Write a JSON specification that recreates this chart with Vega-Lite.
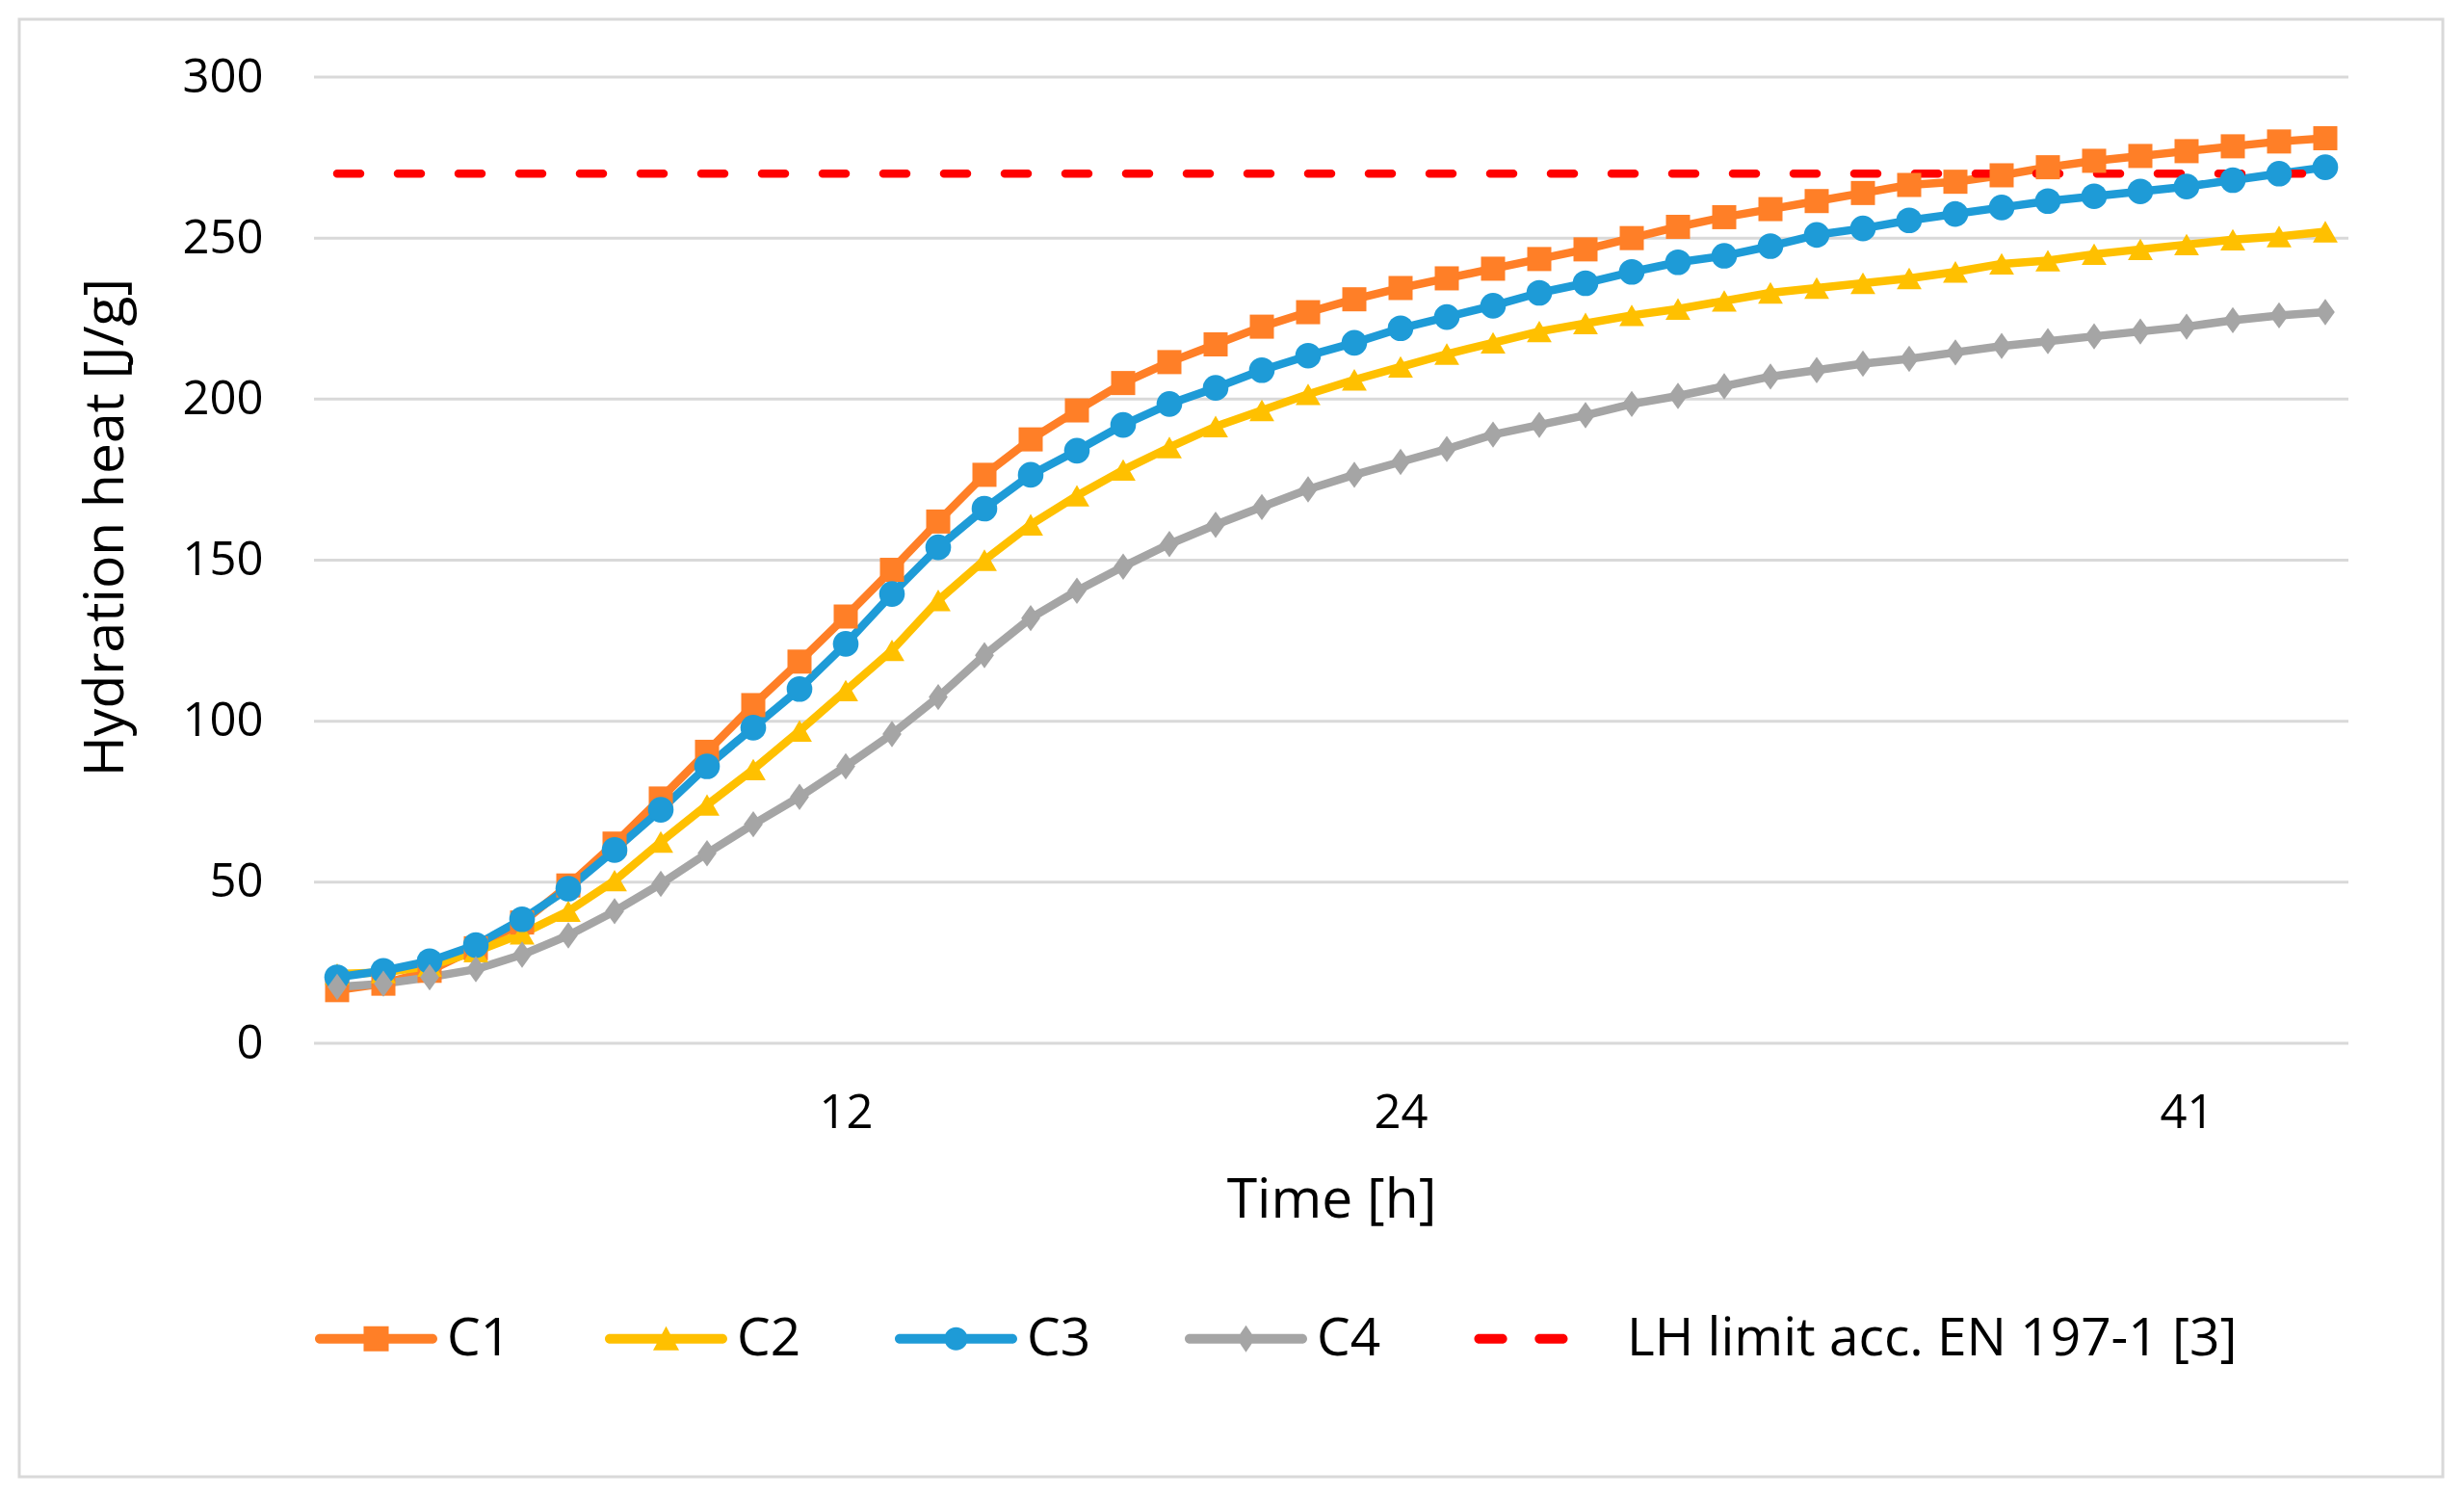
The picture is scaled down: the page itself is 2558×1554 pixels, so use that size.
{
  "$schema": "https://vega.github.io/schema/vega-lite/v6.json",
  "width": 2516,
  "height": 1513,
  "autosize": {"type": "none"},
  "padding": {"left": 20, "top": 20, "right": 22, "bottom": 21},
  "background": "white",
  "datasets": {
    "grid": [{"v": 0}, {"v": 50}, {"v": 100}, {"v": 150}, {"v": 200}, {"v": 250}, {"v": 300}],
    "limit": [
      {"s": "LH limit acc. EN 197-1 [3]", "t": 1, "v": 270},
      {"s": "LH limit acc. EN 197-1 [3]", "t": 44, "v": 270}
    ],
    "curves": [
      {"s":"C1","t":1,"v":16.5},{"s":"C1","t":2,"v":18.5},{"s":"C1","t":3,"v":22.5},{"s":"C1","t":4,"v":29.5},{"s":"C1","t":5,"v":37.5},{"s":"C1","t":6,"v":49},{"s":"C1","t":7,"v":62},{"s":"C1","t":8,"v":76},{"s":"C1","t":9,"v":90.5},{"s":"C1","t":10,"v":105},{"s":"C1","t":11,"v":118.5},{"s":"C1","t":12,"v":132.5},{"s":"C1","t":13,"v":147},{"s":"C1","t":14,"v":162},{"s":"C1","t":15,"v":176.5},{"s":"C1","t":16,"v":187.5},{"s":"C1","t":17,"v":196.5},{"s":"C1","t":18,"v":205},{"s":"C1","t":19,"v":211.5},{"s":"C1","t":20,"v":217},{"s":"C1","t":21,"v":222.5},{"s":"C1","t":22,"v":227},{"s":"C1","t":23,"v":231},{"s":"C1","t":24,"v":234.5},{"s":"C1","t":25,"v":237.5},{"s":"C1","t":26,"v":240.5},{"s":"C1","t":27,"v":243.5},{"s":"C1","t":28,"v":246.5},{"s":"C1","t":29,"v":250},{"s":"C1","t":30,"v":253.5},{"s":"C1","t":31,"v":256.5},{"s":"C1","t":32,"v":259},{"s":"C1","t":33,"v":261.5},{"s":"C1","t":34,"v":264},{"s":"C1","t":35,"v":266.5},{"s":"C1","t":36,"v":267.5},{"s":"C1","t":37,"v":269.5},{"s":"C1","t":38,"v":272},{"s":"C1","t":39,"v":274},{"s":"C1","t":40,"v":275.5},{"s":"C1","t":41,"v":277},{"s":"C1","t":42,"v":278.5},{"s":"C1","t":43,"v":280},{"s":"C1","t":44,"v":281},
      {"s":"C2","t":1,"v":21.5},{"s":"C2","t":2,"v":22},{"s":"C2","t":3,"v":24},{"s":"C2","t":4,"v":28.5},{"s":"C2","t":5,"v":34},{"s":"C2","t":6,"v":41},{"s":"C2","t":7,"v":50.5},{"s":"C2","t":8,"v":62.5},{"s":"C2","t":9,"v":74},{"s":"C2","t":10,"v":85},{"s":"C2","t":11,"v":97},{"s":"C2","t":12,"v":109.5},{"s":"C2","t":13,"v":122},{"s":"C2","t":14,"v":137.5},{"s":"C2","t":15,"v":150},{"s":"C2","t":16,"v":161},{"s":"C2","t":17,"v":170},{"s":"C2","t":18,"v":178},{"s":"C2","t":19,"v":185},{"s":"C2","t":20,"v":191.5},{"s":"C2","t":21,"v":196.5},{"s":"C2","t":22,"v":201.5},{"s":"C2","t":23,"v":206},{"s":"C2","t":24,"v":210},{"s":"C2","t":25,"v":214},{"s":"C2","t":26,"v":217.5},{"s":"C2","t":27,"v":221},{"s":"C2","t":28,"v":223.5},{"s":"C2","t":29,"v":226},{"s":"C2","t":30,"v":228},{"s":"C2","t":31,"v":230.5},{"s":"C2","t":32,"v":233},{"s":"C2","t":33,"v":234.5},{"s":"C2","t":34,"v":236},{"s":"C2","t":35,"v":237.5},{"s":"C2","t":36,"v":239.5},{"s":"C2","t":37,"v":242},{"s":"C2","t":38,"v":243},{"s":"C2","t":39,"v":245},{"s":"C2","t":40,"v":246.5},{"s":"C2","t":41,"v":248},{"s":"C2","t":42,"v":249.5},{"s":"C2","t":43,"v":250.5},{"s":"C2","t":44,"v":252},
      {"s":"C3","t":1,"v":20.5},{"s":"C3","t":2,"v":22.5},{"s":"C3","t":3,"v":25.5},{"s":"C3","t":4,"v":30.5},{"s":"C3","t":5,"v":38.5},{"s":"C3","t":6,"v":48},{"s":"C3","t":7,"v":60},{"s":"C3","t":8,"v":72.5},{"s":"C3","t":9,"v":86},{"s":"C3","t":10,"v":98},{"s":"C3","t":11,"v":110},{"s":"C3","t":12,"v":124},{"s":"C3","t":13,"v":139.5},{"s":"C3","t":14,"v":154},{"s":"C3","t":15,"v":166},{"s":"C3","t":16,"v":176.5},{"s":"C3","t":17,"v":184},{"s":"C3","t":18,"v":192},{"s":"C3","t":19,"v":198.5},{"s":"C3","t":20,"v":203.5},{"s":"C3","t":21,"v":209},{"s":"C3","t":22,"v":213.5},{"s":"C3","t":23,"v":217.5},{"s":"C3","t":24,"v":222},{"s":"C3","t":25,"v":225.5},{"s":"C3","t":26,"v":229},{"s":"C3","t":27,"v":233},{"s":"C3","t":28,"v":236},{"s":"C3","t":29,"v":239.5},{"s":"C3","t":30,"v":242.5},{"s":"C3","t":31,"v":244.5},{"s":"C3","t":32,"v":247.5},{"s":"C3","t":33,"v":251},{"s":"C3","t":34,"v":253},{"s":"C3","t":35,"v":255.5},{"s":"C3","t":36,"v":257.5},{"s":"C3","t":37,"v":259.5},{"s":"C3","t":38,"v":261.5},{"s":"C3","t":39,"v":263},{"s":"C3","t":40,"v":264.5},{"s":"C3","t":41,"v":266},{"s":"C3","t":42,"v":268},{"s":"C3","t":43,"v":270},{"s":"C3","t":44,"v":272},
      {"s":"C4","t":1,"v":17.5},{"s":"C4","t":2,"v":18.5},{"s":"C4","t":3,"v":20.5},{"s":"C4","t":4,"v":23},{"s":"C4","t":5,"v":27.5},{"s":"C4","t":6,"v":33.5},{"s":"C4","t":7,"v":41},{"s":"C4","t":8,"v":49.5},{"s":"C4","t":9,"v":59},{"s":"C4","t":10,"v":68},{"s":"C4","t":11,"v":76.5},{"s":"C4","t":12,"v":86},{"s":"C4","t":13,"v":96},{"s":"C4","t":14,"v":107.5},{"s":"C4","t":15,"v":120.5},{"s":"C4","t":16,"v":132},{"s":"C4","t":17,"v":140.5},{"s":"C4","t":18,"v":148},{"s":"C4","t":19,"v":155},{"s":"C4","t":20,"v":161},{"s":"C4","t":21,"v":166.5},{"s":"C4","t":22,"v":172},{"s":"C4","t":23,"v":176.5},{"s":"C4","t":24,"v":180.5},{"s":"C4","t":25,"v":184.5},{"s":"C4","t":26,"v":189},{"s":"C4","t":27,"v":192},{"s":"C4","t":28,"v":195},{"s":"C4","t":29,"v":198.5},{"s":"C4","t":30,"v":201},{"s":"C4","t":31,"v":204},{"s":"C4","t":32,"v":207},{"s":"C4","t":33,"v":209},{"s":"C4","t":34,"v":211},{"s":"C4","t":35,"v":212.5},{"s":"C4","t":36,"v":214.5},{"s":"C4","t":37,"v":216.5},{"s":"C4","t":38,"v":218},{"s":"C4","t":39,"v":219.5},{"s":"C4","t":40,"v":221},{"s":"C4","t":41,"v":222.5},{"s":"C4","t":42,"v":224.5},{"s":"C4","t":43,"v":226},{"s":"C4","t":44,"v":227}
    ]
  },
  "layer": [
    {
      "data": {"name": "grid"},
      "mark": {"type": "rule", "color": "#d9d9d9", "strokeWidth": 3},
      "encoding": {
        "x": {
          "datum": 0.5,
          "type": "quantitative",
          "title": "Time [h]",
          "scale": {"domain": [0.5, 44.5], "range": [306, 2418], "nice": false, "zero": false},
          "axis": {
            "orient": "bottom",
            "offset": -450,
            "values": [12, 24, 41],
            "format": "d",
            "grid": false,
            "domain": false,
            "ticks": false,
            "labelPadding": 48,
            "labelFontSize": 49,
            "labelColor": "#000",
            "titleFontSize": 57,
            "titleFontWeight": "normal",
            "titleColor": "#000",
            "titleBaseline": "alphabetic",
            "titleY": 180
          }
        },
        "x2": {"datum": 44.5},
        "y": {
          "field": "v",
          "type": "quantitative",
          "title": "Hydration heat [J/g]",
          "scale": {"domain": [0, 300], "range": [1063, 60], "nice": false, "zero": false},
          "axis": {
            "orient": "left",
            "offset": -306,
            "values": [0, 50, 100, 150, 200, 250, 300],
            "grid": false,
            "domain": false,
            "ticks": false,
            "labelPadding": 53,
            "labelFontSize": 49,
            "labelColor": "#000",
            "titleFontSize": 57,
            "titleFontWeight": "normal",
            "titleColor": "#000",
            "titleAngle": 270,
            "titleAlign": "center",
            "titleBaseline": "middle",
            "titleX": -216,
            "titleY": 527
          }
        }
      }
    },
    {
      "data": {"name": "curves"},
      "mark": {"type": "line", "strokeWidth": 8.5, "strokeJoin": "round"},
      "encoding": {
        "x": {"field": "t", "type": "quantitative", "title": "Time [h]"},
        "y": {"field": "v", "type": "quantitative", "title": "Hydration heat [J/g]"},
        "color": {
          "field": "s",
          "type": "nominal",
          "scale": {
            "domain": ["C1", "C2", "C3", "C4", "LH limit acc. EN 197-1 [3]"],
            "range": ["#FF7F27", "#FFC000", "#1E9BD7", "#A5A5A5", "#FF0000"]
          },
          "legend": {
            "title": null,
            "orient": "none",
            "direction": "horizontal",
            "legendX": 307,
            "legendY": 1306,
            "labelFontSize": 55,
            "labelColor": "#000",
            "labelFont": "Open Sans",
            "labelLimit": 1200,
            "labelOffset": 10,
            "columnPadding": 96,
            "symbolSize": 16129,
            "encode": {
              "symbols": {
                "update": {
                  "shape": {"signal": "datum.value === 'C1' ? 'M-0.921,-0.079L0.921,-0.079A0.079,0.079,0,0,1,0.921,0.079L-0.921,0.079A0.079,0.079,0,0,1,-0.921,-0.079ZM-0.205,-0.205L0.205,-0.205L0.205,0.205L-0.205,0.205Z' : datum.value === 'C2' ? 'M-0.921,-0.079L0.921,-0.079A0.079,0.079,0,0,1,0.921,0.079L-0.921,0.079A0.079,0.079,0,0,1,-0.921,-0.079ZM0,-0.205L0.213,0.19L-0.213,0.19Z' : datum.value === 'C3' ? 'M-0.921,-0.079L0.921,-0.079A0.079,0.079,0,0,1,0.921,0.079L-0.921,0.079A0.079,0.079,0,0,1,-0.921,-0.079ZM-0.19,0A0.19,0.19,0,1,1,0.19,0A0.19,0.19,0,1,1,-0.19,0Z' : datum.value === 'C4' ? 'M-0.921,-0.079L0.921,-0.079A0.079,0.079,0,0,1,0.921,0.079L-0.921,0.079A0.079,0.079,0,0,1,-0.921,-0.079ZM0,-0.22L0.15,0L0,0.22L-0.15,0Z' : 'M-1.26,-0.079L-0.88,-0.079A0.079,0.079,0,0,1,-0.88,0.079L-1.26,0.079A0.079,0.079,0,0,1,-1.26,-0.079ZM-0.27,-0.079L0.11,-0.079A0.079,0.079,0,0,1,0.11,0.079L-0.27,0.079A0.079,0.079,0,0,1,-0.27,-0.079Z'"},
                  "size": {"value": 16129},
                  "fill": {"signal": "scale('color', datum.value)"},
                  "fillOpacity": {"value": 1},
                  "opacity": {"value": 1},
                  "stroke": {"value": "transparent"},
                  "strokeWidth": {"value": 0}
                }
              }
            }
          }
        }
      }
    },
    {
      "data": {"name": "limit"},
      "mark": {"type": "line", "strokeWidth": 8.5, "strokeDash": [24, 39], "strokeCap": "round"},
      "encoding": {
        "x": {"field": "t", "type": "quantitative", "title": "Time [h]"},
        "y": {"field": "v", "type": "quantitative", "title": "Hydration heat [J/g]"},
        "color": {"field": "s", "type": "nominal"}
      }
    },
    {
      "data": {"name": "curves"},
      "mark": {"type": "point", "filled": true, "opacity": 1, "strokeWidth": 0},
      "encoding": {
        "x": {"field": "t", "type": "quantitative", "title": "Time [h]"},
        "y": {"field": "v", "type": "quantitative", "title": "Hydration heat [J/g]"},
        "color": {"field": "s", "type": "nominal"},
        "shape": {
          "field": "s",
          "type": "nominal",
          "scale": {"domain": ["C1", "C2", "C3", "C4"], "range": ["square", "triangle-up", "circle", "M0,-1L0.72,0L0,1L-0.72,0Z"]},
          "legend": null
        },
        "size": {
          "field": "s",
          "type": "ordinal",
          "scale": {"domain": ["C1", "C2", "C3", "C4"], "range": [625, 750, 676, 900]},
          "legend": null
        }
      }
    }
  ],
  "config": {
    "font": "Open Sans",
    "view": {"stroke": "#d9d9d9", "strokeWidth": 3, "fill": "white"}
  }
}
